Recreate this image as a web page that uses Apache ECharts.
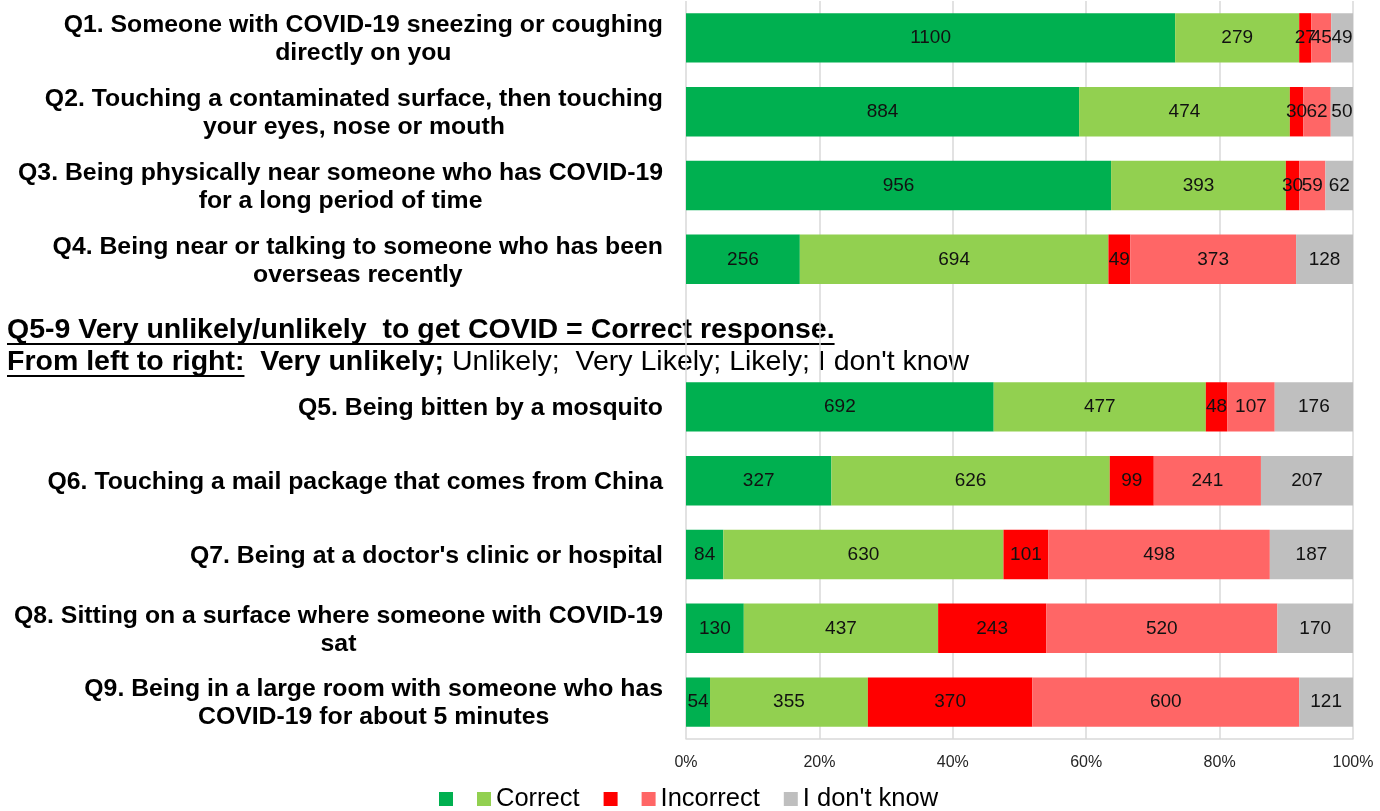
<!DOCTYPE html>
<html>
<head>
<meta charset="utf-8">
<script src="https://cdn.jsdelivr.net/npm/echarts@6/dist/echarts.min.js"></script>
<style>
html,body{margin:0;padding:0;background:#fff;}
#chart{width:1380px;height:811px;}
</style>
</head>
<body>
<div id="chart"></div>
<script>
// ---- data ----
const categories = [
  'Q1. Someone with COVID-19 sneezing or coughing\ndirectly on you',
  'Q2. Touching a contaminated surface, then touching\nyour eyes, nose or mouth',
  'Q3. Being physically near someone who has COVID-19\nfor a long period of time',
  'Q4. Being near or talking to someone who has been\noverseas recently',
  '',
  'Q5. Being bitten by a mosquito',
  'Q6. Touching a mail package that comes from China',
  "Q7. Being at a doctor's clinic or hospital",
  'Q8. Sitting on a surface where someone with COVID-19\nsat',
  'Q9. Being in a large room with someone who has\nCOVID-19 for about 5 minutes'
];
const strongCorrect = [1100, 884, 956, 256, null, 692, 327, 84, 130, 54];
const correct       = [279, 474, 393, 694, null, 477, 626, 630, 437, 355];
const strongWrong   = [27, 30, 30, 49, null, 48, 99, 101, 243, 370];
const incorrect     = [45, 62, 59, 373, null, 107, 241, 498, 520, 600];
const dontKnow      = [49, 50, 62, 128, null, 176, 207, 187, 170, 121];
const total = 1500;
const seriesNames = ['Correct_a', 'Correct', 'Incorrect_a', 'Incorrect', "I don't know"];
const legendText = {'Correct_a': '', 'Correct': 'Correct', 'Incorrect_a': '', 'Incorrect': 'Incorrect', "I don't know": "I don't know"};
const noteLine1 = 'Q5-9 Very unlikely/unlikely  to get COVID = Correct response.';
const noteLine2a = 'From left to right:';
const noteLine2b = '  Very unlikely;';
const noteLine2c = ' Unlikely;  Very Likely; Likely; I don\'t know';

const colors = ['#00B050', '#92D050', '#FF0000', '#FF6666', '#BFBFBF'];
const FONT = '"Liberation Sans", Arial, sans-serif';

const ctx = document.createElement('canvas').getContext('2d');
function tw(text, font){ ctx.font = font; return ctx.measureText(text).width; }

const chart = echarts.init(document.getElementById('chart'));
const dataSets = [strongCorrect, correct, strongWrong, incorrect, dontKnow];

const series = dataSets.map((d, i) => ({
  name: seriesNames[i],
  type: 'bar',
  stack: 'all',
  barCategoryGap: '33%',
  data: d,
  itemStyle: {color: colors[i]},
  label: {
    show: true,
    position: 'inside',
    color: '#111',
    textBorderWidth: 0,
    textBorderColor: 'transparent',
    fontSize: 19,
    fontFamily: FONT,
    formatter: p => (p.value == null ? '' : String(p.value))
  }
}));

const boldFont = 'bold 28.5px "Liberation Sans"';
const regFont = '28.5px "Liberation Sans"';
const w1 = tw(noteLine1, boldFont);
const w2a = tw(noteLine2a, boldFont);

const option = {
  animation: false,
  grid: {left: 686, right: 27, top: 1, bottom: 72, containLabel: false},
  xAxis: {
    type: 'value',
    min: 0, max: total, interval: 300,
    axisLine: {show: true, lineStyle: {color: '#D9D9D9', width: 1.5}},
    axisTick: {show: false},
    splitLine: {show: true, lineStyle: {color: '#D9D9D9', width: 1.5}},
    axisLabel: {
      color: '#262626', fontSize: 16, fontFamily: FONT, margin: 16,
      formatter: v => Math.round(v / total * 100) + '%'
    }
  },
  yAxis: {
    type: 'category',
    inverse: true,
    data: categories,
    axisLine: {show: false},
    axisTick: {show: false},
    axisLabel: {
      margin: 23,
      align: 'right',
      formatter: v => v ? v.split('\n').map(s => '{c|' + s + '}').join('\n') : '',
      rich: {
        c: {align: 'center', fontSize: 24.8, fontWeight: 'bold', fontFamily: FONT, color: '#000', lineHeight: 28, padding: [3, 0, 0, 0]}
      }
    }
  },
  legend: {
    top: 781,
    left: 434,
    itemWidth: 14, itemHeight: 14,
    itemGap: 24,
    icon: 'rect',
    data: seriesNames,
    formatter: n => legendText[n],
    textStyle: {fontSize: 25.5, fontFamily: FONT, color: '#000'}
  },
  series: series,
  graphic: [
    {type: 'text', x: 7, y: 330, style: {text: noteLine1, font: boldFont, fill: '#000', verticalAlign: 'middle'}},
    {type: 'line', shape: {x1: 7, y1: 344, x2: 7 + w1, y2: 344}, style: {stroke: '#000', lineWidth: 2}},
    {type: 'text', x: 7, y: 362, style: {
      text: '{b|' + noteLine2a + '}{b|' + noteLine2b + '}{r|' + noteLine2c + '}',
      verticalAlign: 'middle',
      rich: {
        b: {font: boldFont, fill: '#000', fontSize: 28.5, fontWeight: 'bold', fontFamily: FONT},
        r: {font: regFont, fill: '#000', fontSize: 28.5, fontWeight: 'normal', fontFamily: FONT}
      }
    }},
    {type: 'line', shape: {x1: 7, y1: 376, x2: 7 + w2a, y2: 376}, style: {stroke: '#000', lineWidth: 2}}
  ]
};
chart.setOption(option);
</script>
</body>
</html>
